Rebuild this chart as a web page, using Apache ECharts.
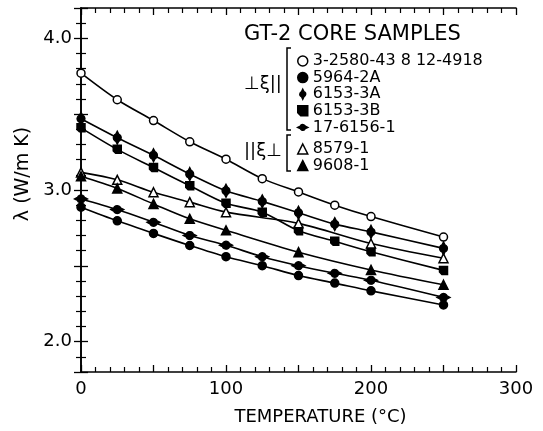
<!DOCTYPE html>
<html>
<head>
<meta charset="utf-8">
<script src="https://cdn.jsdelivr.net/npm/echarts@6/dist/echarts.min.js"></script>
<style>
html,body{margin:0;padding:0;background:#fff;}
#chart{width:543px;height:431px;}
</style>
</head>
<body>
<div id="chart"></div>
<script>
// Temperatures (°C)
const tempsAll = [0, 25, 50, 75, 100, 125, 150, 175, 200, 250];
const tempsTri = [0, 25, 50, 75, 100, 150, 200, 250];

// Thermal conductivity λ (W/m K)
const s_3_2580 = [3.77, 3.595, 3.458, 3.318, 3.203, 3.075, 2.987, 2.90, 2.825, 2.69];
const s_5964_2A = [2.887, 2.797, 2.714, 2.634, 2.56, 2.501, 2.436, 2.386, 2.335, 2.242];
const s_6153_3A = [3.47, 3.345, 3.229, 3.105, 2.995, 2.925, 2.85, 2.775, 2.724, 2.615];
const s_6153_3B = [3.41, 3.268, 3.148, 3.028, 2.912, 2.854, 2.732, 2.662, 2.593, 2.47];
const s_17_6156 = [2.941, 2.871, 2.787, 2.70, 2.636, 2.56, 2.501, 2.451, 2.405, 2.292];
const s_8579_1 = [3.116, 3.067, 2.985, 2.92, 2.854, 2.78, 2.647, 2.55];
const s_9608_1 = [3.09, 3.01, 2.908, 2.81, 2.734, 2.59, 2.473, 2.375];

const names = ['3-2580-43 8 12-4918', '5964-2A', '6153-3A', '6153-3B', '17-6156-1', '8579-1', '9608-1'];
const xTickLabels = ['0', '100', '200', '300'];
const yTickLabels = ['2.0', '3.0', '4.0'];

const spikeV = 'path://M5,0 L6.5,3.2 A3.6,3.6 0 0 1 6.5,9.8 L5,13 L3.5,9.8 A3.6,3.6 0 0 1 3.5,3.2 Z';
const spikeH = 'path://M0,5 L3.2,3.5 A3.6,3.6 0 0 1 9.8,3.5 L13,5 L9.8,6.5 A3.6,3.6 0 0 1 3.2,6.5 Z';
const notchSq = 'path://M0,0 L10,0 L10,10 L3,10 L0,7 Z';

const pair = (xs, ys) => xs.map((x, i) => [x, ys[i]]);

const symbols = [
  {symbol: 'circle', size: 8, fill: '#fff'},
  {symbol: 'circle', size: 8, fill: '#000'},
  {symbol: spikeV, size: [8, 13], fill: '#000'},
  {symbol: notchSq, size: 8, fill: '#000'},
  {symbol: spikeH, size: [13, 8], fill: '#000'},
  {symbol: 'triangle', size: 9, fill: '#fff'},
  {symbol: 'triangle', size: 9, fill: '#000'}
];
const dataSets = [
  pair(tempsAll, s_3_2580), pair(tempsAll, s_5964_2A), pair(tempsAll, s_6153_3A),
  pair(tempsAll, s_6153_3B), pair(tempsAll, s_17_6156), pair(tempsTri, s_8579_1), pair(tempsTri, s_9608_1)
];

const FONT = 'DejaVu Sans';

const series = names.map((n, i) => ({
  name: n,
  type: 'line',
  smooth: 0.3,
  data: dataSets[i],
  symbol: symbols[i].symbol,
  symbolSize: symbols[i].size,
  showAllSymbol: true,
  lineStyle: {color: '#000', width: 1.6},
  itemStyle: {color: symbols[i].fill, borderColor: '#000', borderWidth: 1.5},
  z: 3
}));

const legendItem = i => ({
  name: names[i],
  icon: symbols[i].symbol,
  itemStyle: {color: symbols[i].fill, borderColor: '#000', borderWidth: 1.5}
});

const isLabel = (v, arr) => arr.some(s => Math.abs(parseFloat(s) - v) < 1e-6);

const axisCommon = {
  axisLine: {show: true, lineStyle: {color: '#000', width: 1.6}},
  splitLine: {show: false},
  axisTick: {show: true, inside: true, length: 7, lineStyle: {color: '#000', width: 1.3}},
  minorTick: {show: true, splitNumber: 5, length: 5, lineStyle: {color: '#000', width: 1.2}}
};

const chart = echarts.init(document.getElementById('chart'), null, {renderer: 'canvas'});
chart.setOption({
  backgroundColor: '#fff',
  animation: false,
  title: {
    text: 'GT-2 CORE SAMPLES',
    left: 239, top: 19,
    textStyle: {fontFamily: FONT, fontSize: 21, fontWeight: 'normal', color: '#000'}
  },
  grid: {left: 81, right: 27, top: 8, bottom: 56},
  xAxis: [
    Object.assign({}, axisCommon, {
      type: 'value', min: 0, max: 300, interval: 50,
      name: 'TEMPERATURE (°C)', nameLocation: 'middle', nameGap: 36,
      nameTextStyle: {fontFamily: FONT, fontSize: 18, color: '#000', padding: [0, 0, 0, 44]},
      axisLabel: {
        color: '#000', fontFamily: FONT, fontSize: 18, margin: 8,
        formatter: v => isLabel(v, xTickLabels) ? String(Math.round(v)) : ''
      }
    }),
    Object.assign({}, axisCommon, {
      type: 'value', min: 0, max: 300, interval: 50, position: 'top',
      axisLabel: {show: false}
    })
  ],
  yAxis: [
    Object.assign({}, axisCommon, {
      type: 'value', min: 1.8, max: 4.2, splitNumber: 5,
      name: 'λ (W/m K)', nameLocation: 'middle', nameGap: 40, nameRotate: 90,
      nameTextStyle: {fontFamily: FONT, fontSize: 19, color: '#000', padding: [0, 0, 0, 32]},
      axisLabel: {
        color: '#000', fontFamily: FONT, fontSize: 18, margin: 9,
        formatter: v => isLabel(v, yTickLabels) ? v.toFixed(1) : ''
      }
    }),
    Object.assign({}, axisCommon, {
      type: 'value', min: 1.8, max: 4.2, splitNumber: 5, position: 'right',
      axisLabel: {show: false}
    })
  ],
  legend: [
    {
      orient: 'vertical', left: 292, top: 48, itemGap: 0.6,
      itemWidth: 10, itemHeight: 10,
      textStyle: {fontFamily: FONT, fontSize: 16, color: '#000', lineHeight: 15},
      selectedMode: false,
      data: [0, 1, 2, 3, 4].map(legendItem)
    },
    {
      orient: 'vertical', left: 292, top: 136, itemGap: 0.6,
      itemWidth: 10, itemHeight: 10,
      textStyle: {fontFamily: FONT, fontSize: 16, color: '#000', lineHeight: 15},
      selectedMode: false,
      data: [5, 6].map(legendItem)
    }
  ],
  graphic: [
    {type: 'polyline', shape: {points: [[291, 48], [287, 48], [287, 130], [291, 130]]},
     style: {stroke: '#000', lineWidth: 1.5, fill: null}},
    {type: 'polyline', shape: {points: [[291, 135], [287, 135], [287, 171], [291, 171]]},
     style: {stroke: '#000', lineWidth: 1.5, fill: null}},
    {type: 'text', left: 244, top: 75,
     style: {text: '⊥ξ||', fontFamily: FONT, fontSize: 18, fill: '#000'}},
    {type: 'text', left: 244, top: 142,
     style: {text: '||ξ⊥', fontFamily: FONT, fontSize: 18, fill: '#000'}}
  ],
  series: series
});
</script>
</body>
</html>
